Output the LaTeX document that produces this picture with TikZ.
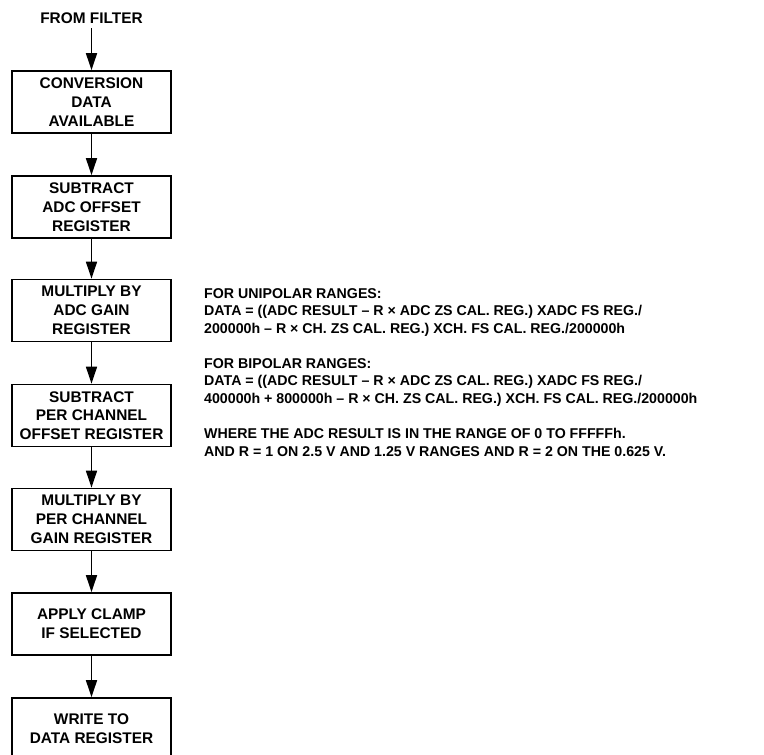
\documentclass[tikz,border=0pt]{standalone}
\usepackage{fontspec}
\setmainfont{Liberation Sans}
\usetikzlibrary{arrows.meta}
\begin{document}
\begin{tikzpicture}[x=1pt,y=-1pt,
  box/.style={draw, line width=1.7pt, minimum width=159pt, minimum height=62pt,
    inner sep=0pt, align=center, font=\fontsize{15.4}{18.8}\selectfont\bfseries},
  flow/.style={line width=1.6pt, -{Triangle[length=17pt,width=11pt]}},
  note/.style={anchor=north west, inner sep=0pt, align=left,
    font=\fontsize{14.2}{17.5}\selectfont\bfseries}]
\useasboundingbox (0,0) rectangle (764,755);
\clip (0,0) rectangle (764,755);
\node[anchor=base, inner sep=5pt, font=\fontsize{15.4}{18.8}\selectfont\bfseries] (ff) at (91.5,23) {FROM FILTER};
\node[box] (b1) at (91.5,102) {CONVERSION\\DATA\\AVAILABLE};
\node[box] (b2) at (91.5,207) {SUBTRACT\\ADC OFFSET\\REGISTER};
\node[box] (b3) at (91.5,310.5) {MULTIPLY BY\\ADC GAIN\\REGISTER};
\node[box] (b4) at (91.5,415.5) {SUBTRACT\\PER CHANNEL\\OFFSET REGISTER};
\node[box] (b5) at (91.5,519.5) {MULTIPLY BY\\PER CHANNEL\\GAIN REGISTER};
\node[box] (b6) at (91.5,624) {APPLY CLAMP\\IF SELECTED};
\node[box] (b7) at (91.5,729) {WRITE TO\\DATA REGISTER};
\draw[flow] (ff.south) -- (b1.north);
\draw[flow] (b1.south) -- (b2.north);
\draw[flow] (b2.south) -- (b3.north);
\draw[flow] (b3.south) -- (b4.north);
\draw[flow] (b4.south) -- (b5.north);
\draw[flow] (b5.south) -- (b6.north);
\draw[flow] (b6.south) -- (b7.north);
\node[note] (n1) at (204,288.3) {FOR UNIPOLAR RANGES:\\
DATA = ((ADC RESULT – R × ADC ZS CAL. REG.) XADC FS REG./\\
200000h – R × CH. ZS CAL. REG.) XCH. FS CAL. REG./200000h};
\node[note] (n2) at (204,358.3) {FOR BIPOLAR RANGES:\\
DATA = ((ADC RESULT – R × ADC ZS CAL. REG.) XADC FS REG./\\
400000h + 800000h – R × CH. ZS CAL. REG.) XCH. FS CAL. REG./200000h};
\node[note] (n3) at (204,428.3) {WHERE THE ADC RESULT IS IN THE RANGE OF 0 TO FFFFFh.\\
AND R = 1 ON 2.5 V AND 1.25 V RANGES AND R = 2 ON THE 0.625 V.};
\end{tikzpicture}
\end{document}
